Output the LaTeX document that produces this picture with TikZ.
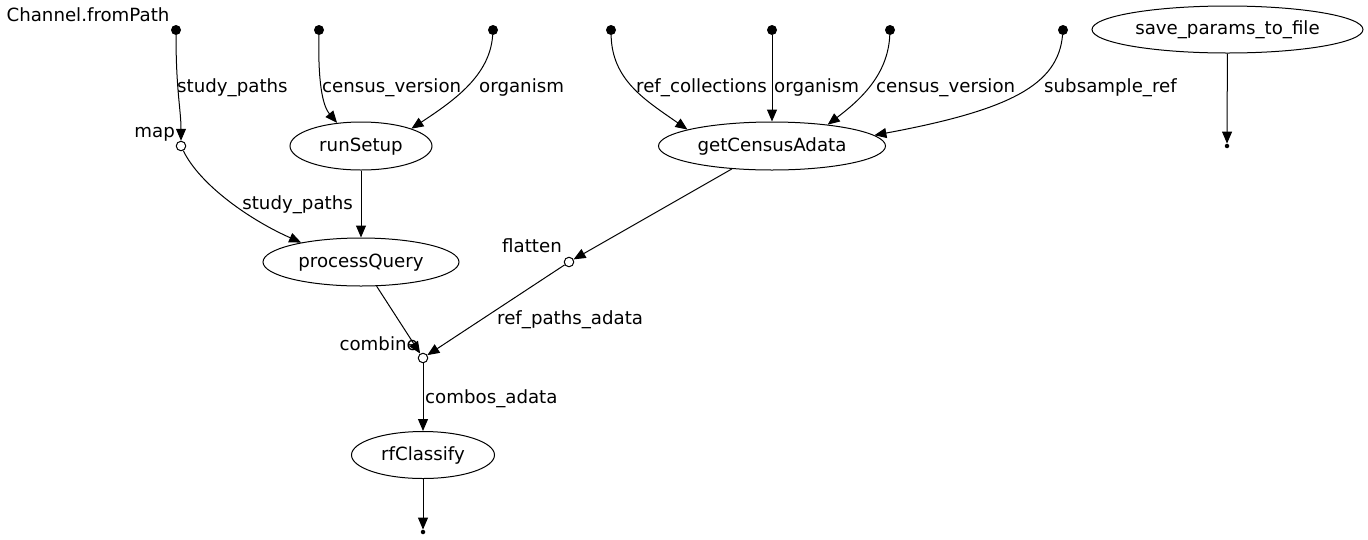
\documentclass[tikz,border=0pt]{standalone}
\usepackage{fontspec}
\setmainfont{DejaVu Sans}
\usetikzlibrary{arrows.meta,shapes.geometric}
\begin{document}
\begin{tikzpicture}[x=1pt,y=-1pt,
  every node/.style={font=\fontsize{18.2}{22}\selectfont, inner sep=0pt},
  proc/.style={draw, ellipse, line width=1pt, minimum width=#1, minimum height=48pt, text height=11pt, text depth=1pt},
  src/.style={circle, fill=black, minimum size=10pt},
  op/.style={circle, draw, line width=1pt, fill=white, minimum size=9.5pt},
  sink/.style={circle, fill=black, minimum size=4.5pt},
  lbl/.style={anchor=base west},
  arr/.style={line width=1pt, -{Triangle[length=12pt,width=10pt]}},
]
\useasboundingbox (0,0) rectangle (1368,539);
% source points
\node[src] (p1) at (176,30) {};
\node[src] (p2) at (319,30) {};
\node[src] (p3) at (493,30) {};
\node[src] (p4) at (611,30) {};
\node[src] (p5) at (772,30) {};
\node[src] (p6) at (890,30) {};
\node[src] (p7) at (1063,30) {};
\node[anchor=base] (chlbl) at (88,21) {Channel.fromPath};
% processes and operators
\node[op] (map) at (181,146) {};
\node[anchor=base east] (maplbl) at (175,137) {map};
\node[proc=142pt] (runSetup) at (361,146) {runSetup};
\node[proc=227pt] (gca) at (772,146) {getCensusAdata};
\node[proc=271pt, minimum height=47pt] (save) at (1227.5,29.5) {save\_params\_to\_file};
\node[sink] (end2) at (1227,146) {};
\node[proc=196pt] (pq) at (361,262) {processQuery};
\node[op] (flatten) at (569,262) {};
\node[anchor=base east] (flatlbl) at (562,252) {flatten};
\node[op] (combine) at (423,358) {};
\node[anchor=base east] (comblbl) at (418,350) {combine};
\node[proc=143pt, minimum height=47pt] (rf) at (423,455) {rfClassify};
\node[sink] (end1) at (423,532) {};
% edge labels
\node[lbl] (l1) at (177,92) {study\_paths};
\node[lbl] (l2) at (322,92) {census\_version};
\node[lbl] (l3) at (479,92) {organism};
\node[lbl] (l4) at (636,92) {ref\_collections};
\node[lbl] (l5) at (774,92) {organism};
\node[lbl] (l6) at (876,92) {census\_version};
\node[lbl] (l7) at (1044,92) {subsample\_ref};
\node[anchor=base east] (l8) at (353,209) {study\_paths};
\node[lbl] (l9) at (497,324) {ref\_paths\_adata};
\node[lbl] (l10) at (425,403) {combos\_adata};
% edges
\draw[arr] (p1) .. controls (176,90) and (181,110) .. (map);
\draw[arr] (p2) .. controls (318,80) and (322,105) .. (runSetup.136);
\draw[arr] (p3) .. controls (490,75) and (455,100) .. (runSetup.19);
\draw[arr] (p4) .. controls (612,80) and (645,100) .. (gca.169);
\draw[arr] (p5) -- (gca);
\draw[arr] (p6) .. controls (888,75) and (860,100) .. (gca.21);
\draw[arr] (p7) .. controls (1058,85) and (1010,110) .. (gca.6);
\draw[arr] (map) .. controls (200,185) and (250,220) .. (pq.162);
\draw[arr] (runSetup) -- (pq);
\draw[arr] (gca) -- (flatten);
\draw[arr] (flatten) -- (combine);
\draw[arr] (pq) -- (combine);
\draw[arr] (combine) -- (rf);
\draw[arr] (rf) -- (end1);
\draw[arr] (save) -- (end2);
\end{tikzpicture}
\end{document}
